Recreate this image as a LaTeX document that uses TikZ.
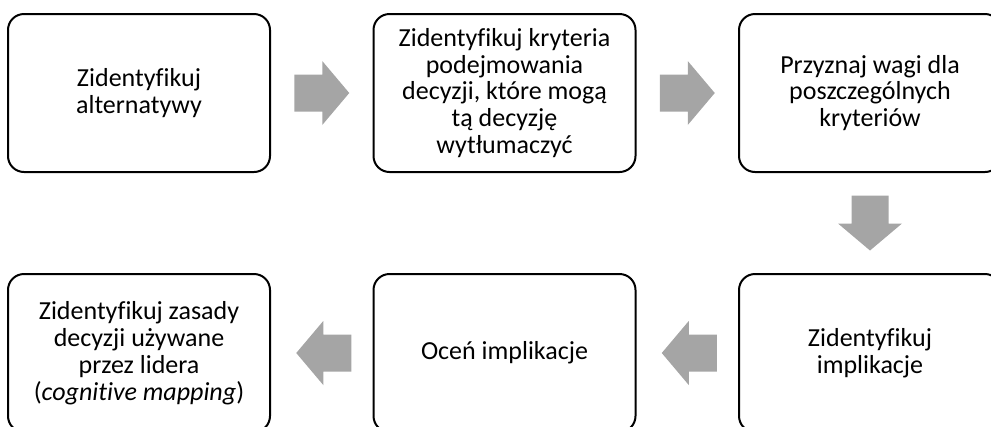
\documentclass[tikz,border=0pt]{standalone}
\usepackage{fontspec}
\setmainfont[Ligatures=NoCommon]{Carlito}
\usetikzlibrary{calc}
\definecolor{arrowgray}{HTML}{A5A5A5}
\tikzset{
  stepbox/.style={draw=black, line width=1.5pt, rounded corners=12pt, fill=white,
    minimum width=196.5pt, minimum height=118.5pt, align=flush center, inner sep=4pt,
    text width=188pt,
    font=\fontsize{19.5pt}{20.1pt}\selectfont},
  blockarrow/.pic={
    \fill[arrowgray] (-27.5,-18.5) -- (0.5,-18.5) -- (0.5,-32) -- (27.5,0)
      -- (0.5,32) -- (0.5,18.5) -- (-27.5,18.5) -- cycle;
  }
}
\begin{document}
\begin{tikzpicture}[x=0.75pt,y=-0.75pt]
  \useasboundingbox (0,0) rectangle (991,426);
  \clip (0,0) rectangle (991,426);
  % top row
  \node[stepbox] (b1) at (139,93) {Zidentyfikuj\\alternatywy};
  \node[stepbox] (b2) at (504.5,93) {Zidentyfikuj kryteria\\podejmowania\\decyzji, które mogą\\tą decyzję\\wytłumaczyć};
  \node[stepbox] (b3) at (870,93) {Przyznaj wagi dla\\poszczególnych\\kryteriów};
  % bottom row
  \node[stepbox] (b4) at (139,353) {Zidentyfikuj zasady\\decyzji używane\\przez lidera\\(\textit{cognitive mapping})};
  \node[stepbox] (b5) at (504.5,353) {Oceń implikacje};
  \node[stepbox] (b6) at (870,353) {Zidentyfikuj\\implikacje};
  % block arrows between the steps
  \pic at ($(b1.east)!0.5!(b2.west)$) {blockarrow};
  \pic at ($(b2.east)!0.5!(b3.west)$) {blockarrow};
  \pic[rotate=-90] at ($(b3.south)!0.5!(b6.north)$) {blockarrow};
  \pic[rotate=180] at ($(b6.west)!0.5!(b5.east)+(2,0)$) {blockarrow};
  \pic[rotate=180] at ($(b5.west)!0.5!(b4.east)+(2,0)$) {blockarrow};
\end{tikzpicture}
\end{document}
